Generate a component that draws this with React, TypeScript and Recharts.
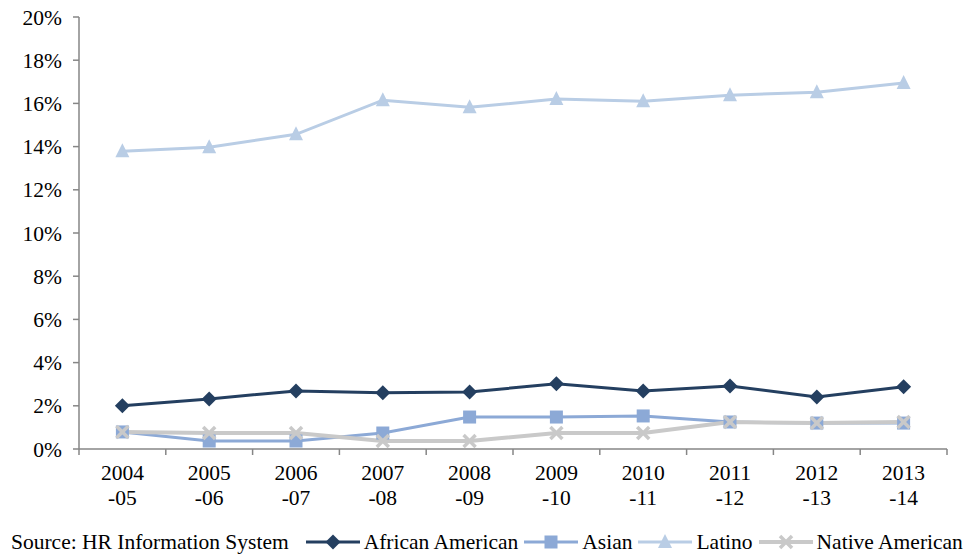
import { LineChart, Line, XAxis, YAxis } from 'recharts'

const years = ['2004', '2005', '2006', '2007', '2008', '2009', '2010', '2011', '2012', '2013']
const yearEnds = ['-05', '-06', '-07', '-08', '-09', '-10', '-11', '-12', '-13', '-14']

const africanAmerican = [2.0, 2.32, 2.69, 2.6, 2.64, 3.02, 2.69, 2.92, 2.41, 2.88]
const asian = [0.79, 0.37, 0.37, 0.74, 1.48, 1.48, 1.53, 1.25, 1.2, 1.2]
const latino = [13.78, 13.97, 14.57, 16.15, 15.82, 16.2, 16.1, 16.38, 16.52, 16.94]
const nativeAmerican = [0.79, 0.74, 0.74, 0.37, 0.37, 0.74, 0.74, 1.25, 1.2, 1.25]

const yTicks = [0, 2, 4, 6, 8, 10, 12, 14, 16, 18, 20]

const data = years.map((y, i) => ({
  i,
  aa: africanAmerican[i],
  asian: asian[i],
  latino: latino[i],
  native: nativeAmerican[i],
}))

// category centres (integers) plus the boundaries between them (halves)
const xTicks = [-0.5, ...years.flatMap((_, i) => [i, i + 0.5])]

const FONT = '"Liberation Serif", "Times New Roman", serif'
const FS = 21.5
const AXIS = '#868686'
const C_AA = '#243F60'
const C_ASIAN = '#8CA9D6'
const C_LATINO = '#B9CDE5'
const C_NATIVE = '#C9C9C9'

function Diamond({ cx, cy, color }: any) {
  const s = 7.5
  return <polygon points={`${cx},${cy - s} ${cx + s},${cy} ${cx},${cy + s} ${cx - s},${cy}`} fill={color} />
}
function Square({ cx, cy, color }: any) {
  return <rect x={cx - 6.5} y={cy - 6.5} width={13} height={13} fill={color} />
}
function Triangle({ cx, cy, color }: any) {
  return <polygon points={`${cx},${cy - 8} ${cx + 7},${cy + 6} ${cx - 7},${cy + 6}`} fill={color} />
}
function Cross({ cx, cy, color }: any) {
  const s = 6
  return (
    <g stroke={color} strokeWidth={3.5}>
      <line x1={cx - s} y1={cy - s} x2={cx + s} y2={cy + s} />
      <line x1={cx - s} y1={cy + s} x2={cx + s} y2={cy - s} />
    </g>
  )
}

const dot = (Shape: any, color: string) => (p: any) =>
  <Shape key={`d-${p.dataKey}-${p.index}`} cx={p.cx} cy={p.cy} color={color} />

function YearTick({ x, y, payload }: any) {
  const v = payload.value
  if (!Number.isInteger(v)) {
    return <line x1={x} y1={y} x2={x} y2={y + 6} stroke={AXIS} strokeWidth={1.5} />
  }
  return (
    <text x={x} y={y} textAnchor="middle" fontFamily={FONT} fontSize={FS} fill="#000">
      <tspan x={x} dy={31}>{years[v]}</tspan>
      <tspan x={x} dy={25}>{yearEnds[v]}</tspan>
    </text>
  )
}

const legendItems = [
  { name: 'African American', color: C_AA, Shape: Diamond, w: 3 },
  { name: 'Asian', color: C_ASIAN, Shape: Square, w: 3 },
  { name: 'Latino', color: C_LATINO, Shape: Triangle, w: 3 },
  { name: 'Native American', color: C_NATIVE, Shape: Cross, w: 4 },
]

export default function App() {
  return (
    <div style={{ position: 'absolute', left: 0, top: 0, width: 967, height: 554, background: '#fff', fontFamily: FONT }}>
      <LineChart width={967} height={554} data={data} margin={{ top: 17, right: 20, bottom: 0, left: 0 }}>
        <XAxis
          dataKey="i"
          type="number"
          domain={[-0.5, 9.5]}
          ticks={xTicks}
          interval={0}
          tick={<YearTick />}
          tickLine={false}
          tickSize={0}
          tickMargin={0}
          height={105}
          axisLine={{ stroke: AXIS, strokeWidth: 1.5 }}
        />
        <YAxis
          domain={[0, 20]}
          ticks={yTicks}
          tickFormatter={(v: number) => `${v}%`}
          width={79}
          tickSize={6}
          tickMargin={11}
          axisLine={{ stroke: AXIS, strokeWidth: 1.5 }}
          tickLine={{ stroke: AXIS, strokeWidth: 1.5 }}
          tick={{ fontFamily: FONT, fontSize: FS, fill: '#000' }}
        />
        <Line dataKey="aa" stroke={C_AA} strokeWidth={3} dot={dot(Diamond, C_AA)} isAnimationActive={false} />
        <Line dataKey="asian" stroke={C_ASIAN} strokeWidth={3} dot={dot(Square, C_ASIAN)} isAnimationActive={false} />
        <Line dataKey="latino" stroke={C_LATINO} strokeWidth={3} dot={dot(Triangle, C_LATINO)} isAnimationActive={false} />
        <Line dataKey="native" stroke={C_NATIVE} strokeWidth={4} dot={dot(Cross, C_NATIVE)} isAnimationActive={false} />
      </LineChart>
      <div
        style={{
          position: 'absolute',
          left: 11,
          top: 530,
          display: 'flex',
          alignItems: 'center',
          fontFamily: FONT,
          fontSize: FS,
          lineHeight: '24px',
          whiteSpace: 'nowrap',
          color: '#000',
        }}
      >
        <span style={{ marginRight: 17 }}>Source: HR Information System</span>
        {legendItems.map(({ name, color, Shape, w }) => (
          <span key={name} style={{ display: 'flex', alignItems: 'center', marginRight: 6 }}>
            <svg width={54} height={20} style={{ marginRight: 4 }}>
              <line x1={0} y1={10} x2={54} y2={10} stroke={color} strokeWidth={w} />
              <Shape cx={27} cy={10} color={color} />
            </svg>
            {name}
          </span>
        ))}
      </div>
    </div>
  )
}
